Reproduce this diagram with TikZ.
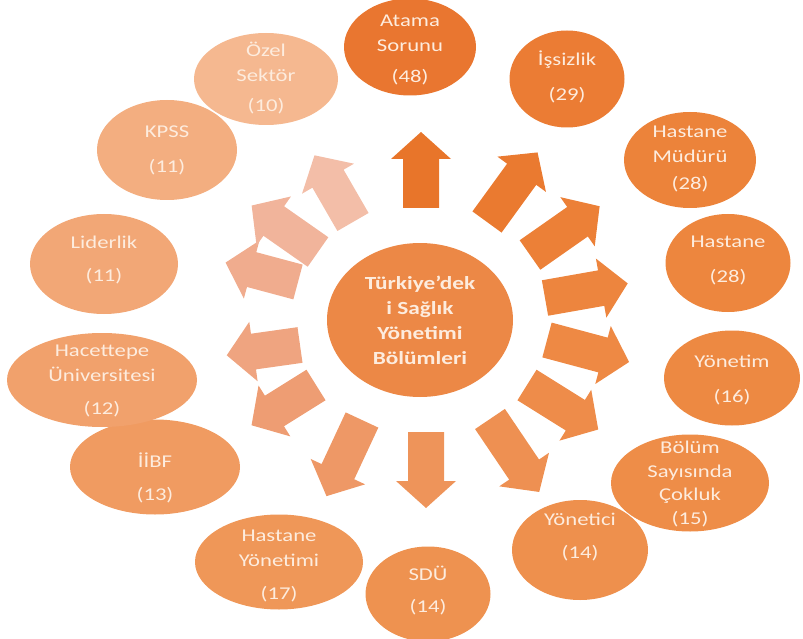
\documentclass[tikz,border=0pt]{standalone}
\usepackage{fontspec}
\setmainfont{Carlito}[FakeStretch=1.26]
\usetikzlibrary{shapes.geometric}
\definecolor{txt}{RGB}{253,236,222}
\definecolor{cc}{RGB}{236,136,70}
\definecolor{c1}{RGB}{233,118,48}
\definecolor{c2}{RGB}{235,124,52}
\definecolor{c3}{RGB}{236,131,58}
\definecolor{c4}{RGB}{237,134,62}
\definecolor{c5}{RGB}{237,137,66}
\definecolor{c6}{RGB}{238,141,72}
\definecolor{c7}{RGB}{238,144,77}
\definecolor{c8}{RGB}{238,146,80}
\definecolor{c9}{RGB}{239,151,88}
\definecolor{c10}{RGB}{240,155,97}
\definecolor{c11}{RGB}{241,161,108}
\definecolor{c12}{RGB}{242,167,118}
\definecolor{c13}{RGB}{243,174,128}
\definecolor{c14}{RGB}{245,184,144}
\definecolor{a1}{RGB}{232,117,42}
\definecolor{a2}{RGB}{234,122,48}
\definecolor{a3}{RGB}{236,128,55}
\definecolor{a4}{RGB}{237,133,62}
\definecolor{a5}{RGB}{238,137,68}
\definecolor{a6}{RGB}{238,140,74}
\definecolor{a7}{RGB}{238,144,82}
\definecolor{a8}{RGB}{238,148,90}
\definecolor{a9}{RGB}{238,152,102}
\definecolor{a10}{RGB}{238,157,115}
\definecolor{a11}{RGB}{239,164,128}
\definecolor{a12}{RGB}{240,172,142}
\definecolor{a13}{RGB}{241,180,155}
\definecolor{a14}{RGB}{243,190,168}
\tikzset{
  ovalbg/.style={ellipse, draw=none, inner sep=0pt},
  ovaltxt/.style={align=center, text=txt, inner sep=0pt, font=\fontsize{18}{25}\selectfont},
  centertxt/.style={align=center, text=txt, inner sep=0pt, font=\bfseries\fontsize{18.5}{25}\selectfont},
}
\newcommand\myblockarrow[5]{%
  \begin{scope}[shift={(#1,-#2)},rotate=#3]
    \fill[#5] (0,-18) -- ({#4-27},-18) -- ({#4-27},-30) -- (#4,0) -- ({#4-27},30) -- ({#4-27},18) -- (0,18) -- cycle;
  \end{scope}}
\begin{document}
\begin{tikzpicture}[x=1pt,y=1pt]
\useasboundingbox (0,0) rectangle (803,-639);
% center
\node[ovalbg, fill=cc, minimum width=186pt, minimum height=154pt] (c) at (420,-320) {};
\node[centertxt] (ct) at (420,-320) {Türkiye'dek\\i Sağlık\\Yönetimi\\Bölümleri};
% outer ellipses
\node[ovalbg, fill=c1, minimum width=132pt, minimum height=97pt] (e1) at (410,-47) {};
\node[ovaltxt] (t1) at (410,-50) {Atama\\Sorunu\\[6pt](48)};
\node[ovalbg, fill=c2, minimum width=115pt, minimum height=97pt] (e2) at (567,-79) {};
\node[ovaltxt] (t2) at (567,-77) {İşsizlik\\[10pt](29)};
\node[ovalbg, fill=c3, minimum width=132pt, minimum height=96pt] (e3) at (690,-160) {};
\node[ovaltxt] (t3) at (690,-159) {Hastane\\Müdürü\\[2pt](28)};
\node[ovalbg, fill=c4, minimum width=125pt, minimum height=98pt] (e4) at (728,-263) {};
\node[ovaltxt] (t4) at (728,-260) {Hastane\\[10pt](28)};
\node[ovalbg, fill=c5, minimum width=136pt, minimum height=95pt] (e5) at (732,-378) {};
\node[ovaltxt] (t5) at (732,-380) {Yönetim\\[10pt](16)};
\node[ovalbg, fill=c6, minimum width=158pt, minimum height=97pt] (e6) at (690,-483) {};
\node[ovaltxt, font=\fontsize{18}{23.5}\selectfont] (t6) at (690,-484) {Bölüm\\Sayısında\\Çokluk\\(15)};
\node[ovalbg, fill=c7, minimum width=136pt, minimum height=100pt] (e7) at (580,-550) {};
\node[ovaltxt] (t7) at (580,-537) {Yönetici\\[8pt](14)};
\node[ovalbg, fill=c8, minimum width=125pt, minimum height=95pt] (e8) at (428,-594) {};
\node[ovaltxt] (t8) at (428,-591) {SDÜ\\[7pt](14)};
\node[ovalbg, fill=c9, minimum width=168pt, minimum height=95pt] (e9) at (279,-562) {};
\node[ovaltxt] (t9) at (279,-566) {Hastane\\Yönetimi\\[8pt](17)};
\node[ovalbg, fill=c10, minimum width=170pt, minimum height=95pt] (e10) at (155,-467) {};
\node[ovaltxt] (t10) at (155,-478) {İİBF\\[8pt](13)};
\node[ovalbg, fill=c11, minimum width=190pt, minimum height=94pt] (e11) at (102,-380) {};
\node[ovaltxt] (t11) at (102,-381) {Hacettepe\\Üniversitesi\\[8pt](12)};
\node[ovalbg, fill=c12, minimum width=148pt, minimum height=100pt] (e12) at (104,-264) {};
\node[ovaltxt] (t12) at (104,-260) {Liderlik\\[8pt](11)};
\node[ovalbg, fill=c13, minimum width=140pt, minimum height=100pt] (e13) at (167,-150) {};
\node[ovaltxt] (t13) at (167,-150) {KPSS\\[10pt](11)};
\node[ovalbg, fill=c14, minimum width=144pt, minimum height=92pt] (e14) at (266,-79) {};
\node[ovaltxt] (t14) at (266,-78) {Özel\\Sektör\\[5pt](10)};
% arrows
\myblockarrow{421}{208}{90}{76}{a1}
\myblockarrow{487}{222}{54}{86}{a2}
\myblockarrow{530}{255}{35}{85}{a3}
\myblockarrow{545}{298}{10}{84}{a4}
\myblockarrow{547}{340}{-15}{85}{a5}
\myblockarrow{527}{385}{-32}{84}{a6}
\myblockarrow{490}{419}{-56}{88}{a7}
\myblockarrow{426}{432}{-90}{76}{a8}
\myblockarrow{362}{420}{-115}{84}{a9}
\myblockarrow{316}{385}{212}{76}{a10}
\myblockarrow{300}{345}{188}{74}{a11}
\myblockarrow{298}{282}{165}{75}{a12}
\myblockarrow{318}{252}{145}{81}{a13}
\myblockarrow{353}{222}{120}{77}{a14}
\end{tikzpicture}
\end{document}
